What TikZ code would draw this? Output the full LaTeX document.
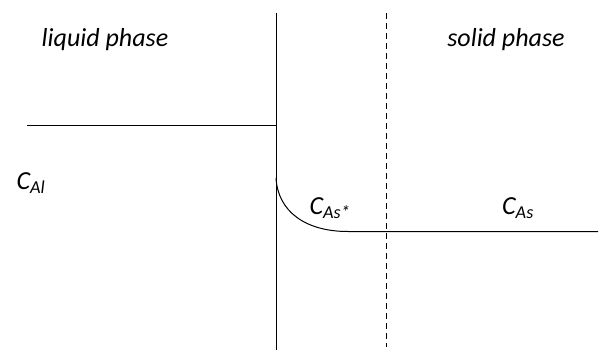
\documentclass[tikz,border=0pt]{standalone}
\usepackage{fontspec}
\setmainfont{Carlito}
\usetikzlibrary{positioning}

\tikzset{
  lbl/.style={font=\itshape\fontsize{26}{30}\selectfont, inner sep=0pt},
  conc/.style={font=\itshape\fontsize{26}{30}\selectfont, inner sep=0pt},
  ln/.style={line width=1pt}
}

\begin{document}
\begin{tikzpicture}[x=1pt, y=-1pt]
  \useasboundingbox (0,0) rectangle (600,351);
  % interface and boundary layer edge
  \coordinate (top) at (276,13);
  \coordinate (bot) at (276,350);
  \draw[ln] (top) -- (bot);
  \draw[ln, dashed, dash pattern=on 6pt off 4pt] (386,13) -- (386,347);
  % concentration profile
  \draw[ln] (27,125) -- (276,125);
  \draw[ln] (276,178) .. controls (278,212) and (306,231.5) .. (348,231.5) -- (598,231.5);
  % labels
  \node[lbl] (liq) at (105,40) {liquid phase};
  \node[lbl] (sol) at (506,40) {solid phase};
  \node[conc] (cal) at (31,183) {C\textsubscript{Al}};
  \node[conc] (cass) at (330,208) {C\textsubscript{As*}};
  \node[conc] (cas) at (518,208) {C\textsubscript{As}};
\end{tikzpicture}
\end{document}
